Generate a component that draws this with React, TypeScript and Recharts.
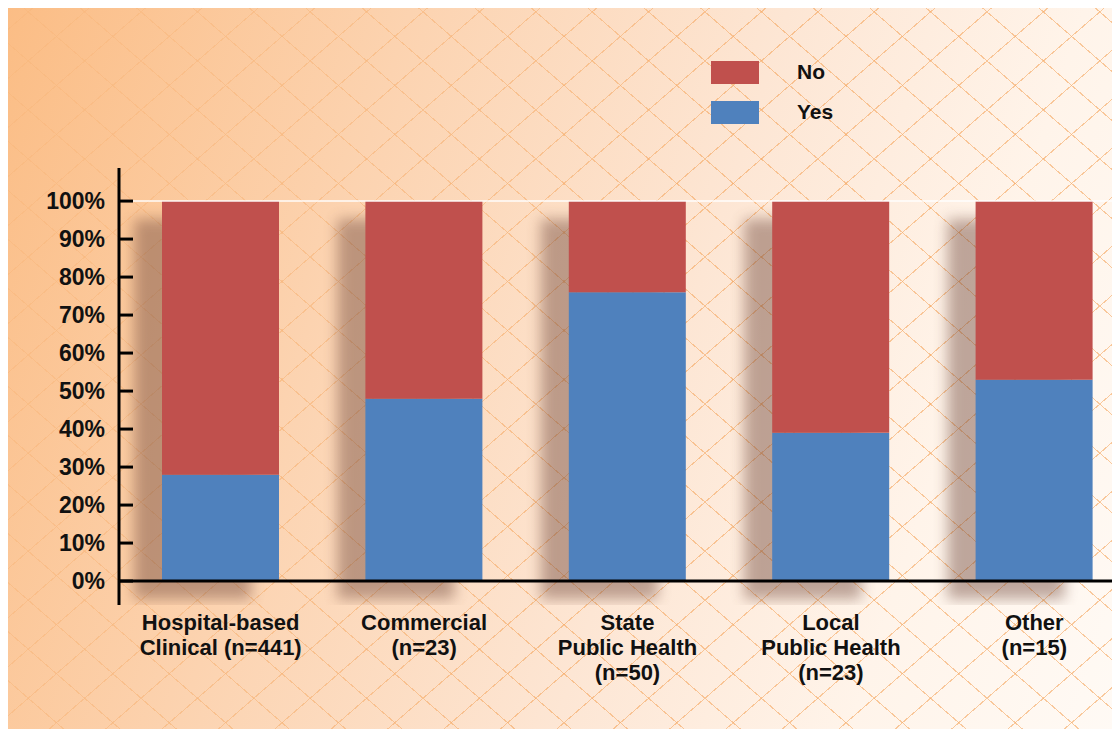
import React from 'react';
import { BarChart, Bar, XAxis, YAxis, ReferenceLine } from 'recharts';

const categories = [
  'Hospital-based\nClinical (n=441)',
  'Commercial\n(n=23)',
  'State\nPublic Health\n(n=50)',
  'Local\nPublic Health\n(n=23)',
  'Other\n(n=15)',
];
const yesValues = [28, 48, 76, 39, 53];
const noValues = [72, 52, 24, 61, 47];
const yTicks = [0, 10, 20, 30, 40, 50, 60, 70, 80, 90, 100];

const data = categories.map((name, i) => ({ name, yes: yesValues[i], no: noValues[i] }));

const FONT = '"Liberation Sans", Arial, Helvetica, sans-serif';
const RED = '#c0504d';
const BLUE = '#4f81bd';

const legendItems = [
  { label: 'No', color: RED },
  { label: 'Yes', color: BLUE },
];

// y tick: label on the left, short tick mark pointing into the plot
const YTick = (props: any) => {
  const { x, y, payload } = props;
  return (
    <g>
      <line x1={x + 14} x2={x + 28} y1={y} y2={y} stroke="#000" strokeWidth={3} />
      <text x={x} y={y} dy="0.36em" textAnchor="end" fontFamily={FONT} fontWeight="bold" fontSize={23} fill="#111">
        {payload.value}%
      </text>
    </g>
  );
};

const XTick = (props: any) => {
  const { x, y, payload } = props;
  const lines = String(payload.value).split('\n');
  return (
    <text x={x} y={y} textAnchor="middle" fontFamily={FONT} fontWeight="bold" fontSize={22} fill="#111">
      {lines.map((l, i) => (
        <tspan key={i} x={x} dy={i === 0 ? 23 : 25}>{l}</tspan>
      ))}
    </text>
  );
};

// bottom segment also paints the blurred shadow of the whole stack
const YesShape = (props: any) => {
  const { x, y, width, height, payload, fill } = props;
  const full = (height * (payload.yes + payload.no)) / payload.yes;
  const top = y + height - full;
  return (
    <g>
      <rect x={x - 28} y={top + 18} width={width} height={full} fill="#70473a" opacity={0.45} filter="url(#barShadow)" />
      <rect x={x} y={y} width={width} height={height} fill={fill} />
    </g>
  );
};

const hatch = 'rgba(245,168,98,0.6)';

export default function App() {
  return (
    <div
      style={{
        position: 'relative',
        width: 1112,
        height: 721,
        overflow: 'hidden',
        background: 'linear-gradient(108deg, #fbbd85 0%, #fcd3b0 30%, #fde6d4 58%, #fff4ea 80%, #fffaf5 100%)',
      }}
    >
      <div
        style={{
          position: 'absolute',
          inset: 0,
          background:
            `repeating-linear-gradient(41deg, transparent 0px, transparent 36px, ${hatch} 36px, ${hatch} 37px),` +
            `repeating-linear-gradient(-41deg, transparent 0px, transparent 36px, ${hatch} 36px, ${hatch} 37px)`,
          WebkitMaskImage: 'linear-gradient(110deg, rgba(0,0,0,0.25) 0%, rgba(0,0,0,0.7) 30%, #000 55%)',
          maskImage: 'linear-gradient(110deg, rgba(0,0,0,0.25) 0%, rgba(0,0,0,0.7) 30%, #000 55%)',
        }}
      />
      <svg width={0} height={0} style={{ position: 'absolute' }}>
        <defs>
          <filter id="barShadow" x="-50%" y="-20%" width="200%" height="140%">
            <feGaussianBlur stdDeviation={7} />
          </filter>
        </defs>
      </svg>
      <div style={{ position: 'absolute', top: 44, left: 703 }}>
        {legendItems.map((it) => (
          <div key={it.label} style={{ display: 'flex', alignItems: 'center', height: 40 }}>
            <div style={{ width: 48, height: 23, background: it.color }} />
            <span style={{ marginLeft: 38, fontFamily: FONT, fontWeight: 'bold', fontSize: 21, color: '#111' }}>{it.label}</span>
          </div>
        ))}
      </div>
      <div style={{ position: 'absolute', top: 0, left: 0 }}>
        <BarChart
          width={1128}
          height={721}
          data={data}
          margin={{ top: 160, right: 0, bottom: 14, left: 0 }}
          barSize={117}
        >
          <XAxis dataKey="name" axisLine={false} tickLine={false} tickSize={0} tickMargin={2} height={110} tick={<XTick />} interval={0} />
          <YAxis
            type="number"
            domain={[-6.3, 108.7]}
            allowDataOverflow
            ticks={yTicks}
            width={111}
            tickLine={false}
            tickSize={0}
            tickMargin={14}
            axisLine={{ stroke: '#000', strokeWidth: 3 }}
            tick={<YTick />}
            interval={0}
          />
          <ReferenceLine y={100} stroke="#ffffff" strokeOpacity={0.7} strokeWidth={2} />
          <Bar dataKey="yes" name="Yes" stackId="a" fill={BLUE} shape={<YesShape />} isAnimationActive={false} />
          <Bar dataKey="no" name="No" stackId="a" fill={RED} isAnimationActive={false} />
          <ReferenceLine y={0} stroke="#000" strokeWidth={3} />
        </BarChart>
      </div>
    </div>
  );
}
